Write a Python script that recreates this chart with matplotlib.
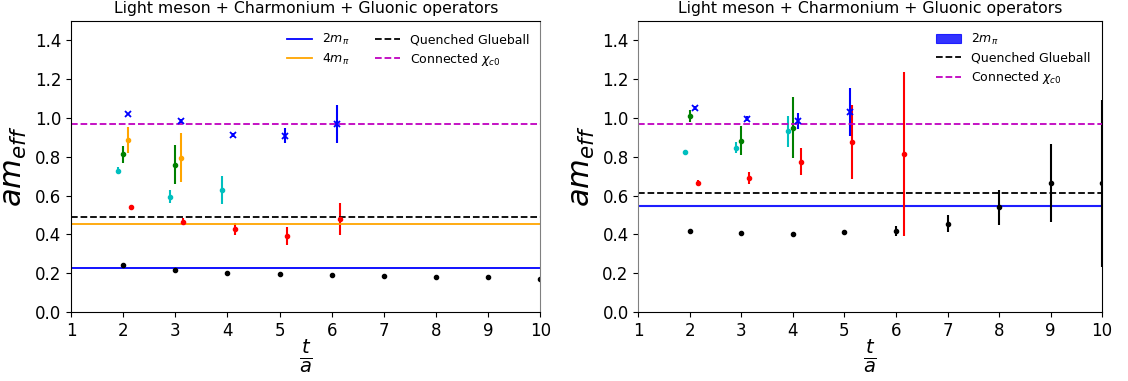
import numpy as np
import matplotlib
matplotlib.use("Agg")
import matplotlib.pyplot as plt

title = "Light meson + Charmonium + Gluonic operators"

# ---- left panel data ----
L_t_black = [2, 3, 4, 5, 6, 7, 8, 9, 10]
L_m_black = [0.240, 0.218, 0.203, 0.194, 0.191, 0.184, 0.182, 0.179, 0.172]
L_e_black = [0.004, 0.004, 0.004, 0.004, 0.004, 0.004, 0.004, 0.004, 0.006]

L_t_cyan = [1.9, 2.9, 3.9]
L_m_cyan = [0.729, 0.595, 0.631]
L_e_cyan = [0.017, 0.034, 0.072]

L_t_green = [2.0, 3.0]
L_m_green = [0.813, 0.759]
L_e_green = [0.045, 0.100]

L_t_orange = [2.1, 3.1]
L_m_orange = [0.887, 0.796]
L_e_orange = [0.066, 0.125]

L_t_red = [2.15, 3.15, 4.15, 5.15, 6.15]
L_m_red = [0.540, 0.466, 0.428, 0.392, 0.481]
L_e_red = [0.010, 0.020, 0.033, 0.048, 0.083]

L_t_blue = [2.1, 3.1, 4.1, 5.1, 6.1]
L_m_blue = [1.021, 0.983, 0.911, 0.909, 0.969]
L_e_blue = [0.006, 0.010, 0.010, 0.040, 0.100]

L_2mpi = 0.227
L_4mpi = 0.452
L_glue = 0.488
L_chic0 = 0.971

# ---- right panel data ----
R_t_black = [2, 3, 4, 5, 6, 7, 8, 9, 10]
R_m_black = [0.417, 0.405, 0.403, 0.415, 0.417, 0.456, 0.539, 0.664, 0.664]
R_e_black = [0.005, 0.005, 0.005, 0.010, 0.026, 0.042, 0.088, 0.200, 0.430]

R_t_cyan = [1.9, 2.9, 3.9]
R_m_cyan = [0.823, 0.847, 0.931]
R_e_cyan = [0.006, 0.028, 0.080]

R_t_green = [2.0, 3.0, 4.0]
R_m_green = [1.009, 0.882, 0.950]
R_e_green = [0.030, 0.075, 0.158]

R_t_red = [2.15, 3.15, 4.15, 5.15, 6.15]
R_m_red = [0.667, 0.690, 0.774, 0.878, 0.815]
R_e_red = [0.015, 0.030, 0.069, 0.190, 0.423]

R_t_blue = [2.1, 3.1, 4.1, 5.1]
R_m_blue = [1.050, 0.997, 0.986, 1.029]
R_e_blue = [0.010, 0.015, 0.042, 0.123]

R_2mpi = 0.549
R_2mpi_err = 0.002
R_glue = 0.616
R_chic0 = 0.971

fig = plt.figure(figsize=(11.28, 3.81), dpi=100)
ax1 = fig.add_axes([0.063, 0.181, 0.416, 0.764])
ax2 = fig.add_axes([0.566, 0.181, 0.411, 0.764])

eb = dict(fmt='o', markersize=3, elinewidth=1.5, capsize=0)
xb = dict(fmt='x', markersize=5, markeredgewidth=1.3, elinewidth=1.5, capsize=0)

# left
ax1.errorbar(L_t_black, L_m_black, yerr=L_e_black, color='k', **eb)
ax1.errorbar(L_t_cyan, L_m_cyan, yerr=L_e_cyan, color='c', **eb)
ax1.errorbar(L_t_green, L_m_green, yerr=L_e_green, color='g', **eb)
ax1.errorbar(L_t_orange, L_m_orange, yerr=L_e_orange, color='orange', **eb)
ax1.errorbar(L_t_red, L_m_red, yerr=L_e_red, color='r', **eb)
ax1.errorbar(L_t_blue, L_m_blue, yerr=L_e_blue, color='b', **xb)
ax1.axhline(L_2mpi, color='b', lw=1.3, label=r'$2m_\pi$')
ax1.axhline(L_4mpi, color='orange', lw=1.3, label=r'$4m_\pi$')
ax1.axhline(L_glue, color='k', ls='--', lw=1.3, label='Quenched Glueball')
ax1.axhline(L_chic0, color='m', ls='--', lw=1.3, label=r'Connected $\chi_{c0}$')
ax1.legend(loc='upper right', ncol=2, frameon=False, fontsize=9,
           labelspacing=0.35)
ax1.spines['right'].set_color('0.5')

# right
ax2.errorbar(R_t_black, R_m_black, yerr=R_e_black, color='k', **eb)
ax2.errorbar(R_t_cyan, R_m_cyan, yerr=R_e_cyan, color='c', **eb)
ax2.errorbar(R_t_green, R_m_green, yerr=R_e_green, color='g', **eb)
ax2.errorbar(R_t_red, R_m_red, yerr=R_e_red, color='r', **eb)
ax2.errorbar(R_t_blue, R_m_blue, yerr=R_e_blue, color='b', **xb)
ax2.axhspan(R_2mpi - R_2mpi_err, R_2mpi + R_2mpi_err, facecolor='b',
            edgecolor='b', alpha=0.8, lw=0.8, label=r'$2m_\pi$')
ax2.axhline(R_glue, color='k', ls='--', lw=1.3, label='Quenched Glueball')
ax2.axhline(R_chic0, color='m', ls='--', lw=1.3, label=r'Connected $\chi_{c0}$')
ax2.legend(loc='upper right', frameon=False, fontsize=9, labelspacing=0.35)
ax2.spines['left'].set_color('0.5')

for ax in (ax1, ax2):
    ax.set_xlim(1, 10)
    ax.set_ylim(0, 1.5)
    ax.set_xticks(range(1, 11))
    ax.set_yticks(np.arange(0, 1.41, 0.2))
    ax.tick_params(labelsize=12)
    ax.set_title(title, fontsize=11.3)
    ax.set_xlabel(r'$\frac{t}{a}$', fontsize=20, labelpad=-2)
    ax.set_ylabel(r'$am_{eff}$', fontsize=22)

fig.savefig('out.png', dpi=100)
